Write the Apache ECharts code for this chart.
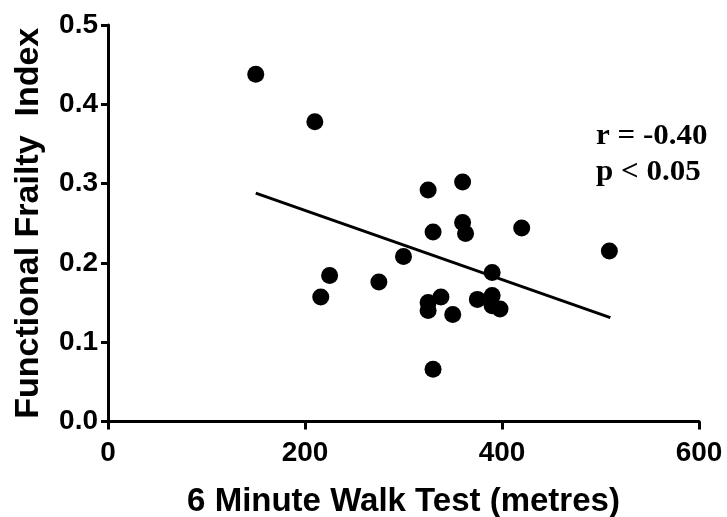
<!DOCTYPE html>
<html>
<head>
<meta charset="utf-8">
<title>Functional Frailty Index vs 6 Minute Walk Test</title>
<script src="https://cdn.jsdelivr.net/npm/echarts@6/dist/echarts.min.js"></script>
<style>
  html, body { margin: 0; padding: 0; background: #ffffff; }
  #chart { width: 727px; height: 517px; }
</style>
</head>
<body>
<div id="chart"></div>
<script>
// 6 minute walk distance (metres) for each participant
var walkDistance = [150, 210, 216, 225, 275, 300, 325, 325, 325, 330, 330, 338, 350, 360, 360, 363, 375, 390, 390, 390, 398, 420, 509];
// Functional frailty index for the same participants
var frailtyIndex = [0.438, 0.378, 0.157, 0.184, 0.176, 0.208, 0.292, 0.150, 0.140, 0.239, 0.066, 0.157, 0.135, 0.302, 0.251, 0.237, 0.154, 0.188, 0.159, 0.146, 0.142, 0.244, 0.215];

// Fitted regression line end points
var fitX = [150, 510];
var fitY = [0.288, 0.131];

var xTicks = [0, 200, 400, 600];
var yTicks = [0.0, 0.1, 0.2, 0.3, 0.4, 0.5];

var statsText = ['r = -0.40', 'p < 0.05'];

var points = walkDistance.map(function (x, i) { return [x, frailtyIndex[i]]; });
var fitLine = fitX.map(function (x, i) { return [x, fitY[i]]; });

var sans = '"Liberation Sans", Arial, sans-serif';
var tickFont = { color: '#000', fontFamily: sans, fontWeight: 'bold', fontSize: 28 };
var titleFont = { color: '#000', fontFamily: sans, fontWeight: 'bold', fontSize: 33 };
var blackLine = { color: '#000', width: 3 };

var chart = echarts.init(document.getElementById('chart'), null, { renderer: 'canvas' });
chart.setOption({
  animation: false,
  backgroundColor: '#ffffff',
  grid: { left: 108, right: 28, top: 25, bottom: 95.5, containLabel: false, outerBoundsMode: 'none' },
  xAxis: {
    type: 'value',
    min: xTicks[0],
    max: xTicks[xTicks.length - 1],
    interval: xTicks[1] - xTicks[0],
    name: '6 Minute Walk Test (metres)',
    nameLocation: 'middle',
    nameGap: 64,
    nameTextStyle: titleFont,
    axisLine: { show: true, onZero: false, lineStyle: blackLine },
    axisTick: { show: true, length: 8, lineStyle: blackLine },
    splitLine: { show: false },
    axisLabel: Object.assign({ margin: 18 }, tickFont)
  },
  yAxis: {
    type: 'value',
    min: yTicks[0],
    max: yTicks[yTicks.length - 1],
    interval: 0.1,
    name: 'Functional Frailty  Index',
    nameLocation: 'middle',
    nameGap: 62,
    nameTextStyle: Object.assign({}, titleFont, { fontSize: 34 }),
    axisLine: { show: true, onZero: false, lineStyle: blackLine },
    axisTick: { show: true, length: 7, lineStyle: blackLine },
    splitLine: { show: false },
    axisLabel: Object.assign({ margin: 10, formatter: function (v) { return v.toFixed(1); } }, tickFont)
  },
  graphic: [{
    type: 'text',
    left: 596,
    top: 119,
    scaleX: 1.07,
    style: {
      text: statsText.join('\n'),
      font: 'bold 29px "Liberation Serif", "Times New Roman", serif',
      lineHeight: 36,
      fill: '#000'
    }
  }],
  series: [
    {
      type: 'line',
      data: fitLine,
      symbol: 'none',
      lineStyle: { color: '#000', width: 3 },
      z: 2
    },
    {
      type: 'scatter',
      data: points,
      symbol: 'circle',
      symbolSize: 17,
      itemStyle: { color: '#000', opacity: 1 },
      z: 3
    }
  ]
});
</script>
</body>
</html>
